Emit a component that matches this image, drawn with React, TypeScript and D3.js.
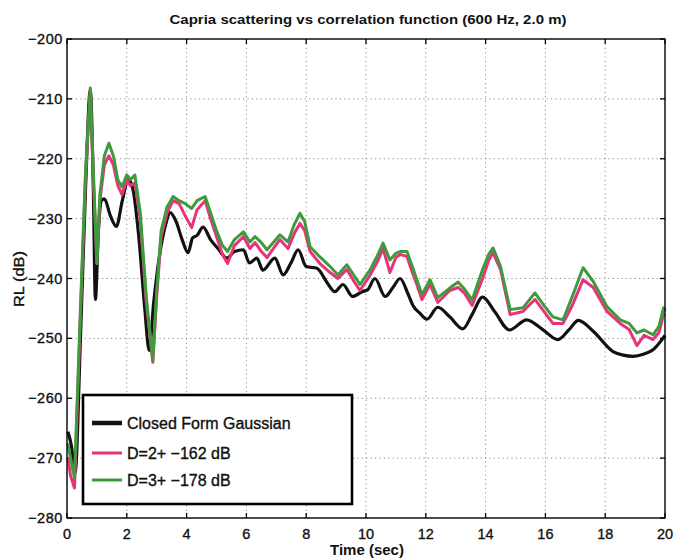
import React from "react";
import * as d3 from "d3";

const title = "Capria scattering vs correlation function (600 Hz, 2.0 m)";
const xLabel = "Time (sec)";
const yLabel = "RL (dB)";
const xTicks = [0, 2, 4, 6, 8, 10, 12, 14, 16, 18, 20];
const yTicks = [-200, -210, -220, -230, -240, -250, -260, -270, -280];

const seriesNames = ["Closed Form Gaussian", "D=2+ \u2212162 dB", "D=3+ \u2212178 dB"];
const seriesColors = ["#111111", "#e8337c", "#3f9a3c"];

const gaussT = [0.03, 0.15, 0.27, 0.45, 0.62, 0.78, 0.88, 0.95, 1.05, 1.15, 1.25, 1.45, 1.65, 1.85, 2.05, 2.2, 2.4, 2.6, 2.75, 2.9, 3.1, 3.3, 3.45, 3.65, 3.85, 4.05, 4.2, 4.35, 4.55, 4.8, 5.05, 5.35, 5.6, 5.9, 6.1, 6.35, 6.55, 6.95, 7.23, 7.5, 7.73, 8.0, 8.36, 8.7, 8.96, 9.23, 9.55, 9.87, 10.05, 10.3, 10.64, 10.9, 11.14, 11.4, 11.57, 11.8, 12.04, 12.4, 12.8, 13.24, 13.55, 13.9, 14.3, 14.8, 15.37, 15.9, 16.42, 16.8, 17.1, 17.6, 18.26, 18.6, 18.93, 19.3, 19.6, 20];
const gaussV = [-265.6, -268, -272.5, -250, -225, -208.5, -225, -243.5, -232, -227, -226.7, -229.5, -231.3, -227, -223.5, -225, -233, -245, -252, -244, -236, -231, -229, -230.5, -233.5, -235.7, -233.2, -232.8, -231.4, -233.5, -235, -236.6, -235.5, -235.2, -237.4, -236.6, -238.6, -236.6, -239.4, -237.3, -235.2, -238, -238.3, -240.7, -242.2, -241, -243, -242.2, -241.9, -240, -243, -241.5, -240, -242.5, -244.5, -245.8, -246.8, -244.8, -246.4, -248.4, -246, -243.1, -245.5, -248.6, -246.9, -248.5, -250.2, -248.5, -247, -248.8, -252.2, -252.8, -253, -252.6, -251.9, -249.5];

const dT = [0.03, 0.12, 0.25, 0.45, 0.62, 0.78, 0.88, 1.0, 1.1, 1.25, 1.4, 1.55, 1.7, 1.84, 2.0, 2.12, 2.27, 2.45, 2.65, 2.87, 3.0, 3.15, 3.35, 3.55, 3.75, 3.95, 4.17, 4.35, 4.62, 4.8, 5.0, 5.2, 5.37, 5.6, 5.9, 6.12, 6.29, 6.5, 6.69, 6.9, 7.12, 7.39, 7.6, 7.79, 7.95, 8.13, 8.46, 8.8, 9.06, 9.36, 9.6, 9.8, 10.13, 10.4, 10.57, 10.8, 11.0, 11.14, 11.37, 11.55, 11.7, 11.87, 12.14, 12.4, 12.8, 13.08, 13.3, 13.55, 13.9, 14.1, 14.25, 14.5, 14.82, 15.25, 15.65, 15.95, 16.25, 16.59, 16.9, 17.26, 17.6, 18.06, 18.5, 18.8, 19.06, 19.3, 19.6, 19.8, 19.95, 20];

const d3V = [-267.5, -270, -273.3, -245, -222, -208.2, -222, -237.5, -226, -219.5, -217.4, -219.5, -223.5, -224.7, -222.7, -223.5, -222.7, -229, -243, -253.6, -242, -232, -228, -226.3, -227, -227.5, -228.3, -227, -226.3, -229, -232, -234.5, -235.5, -233.5, -232.2, -233.9, -233, -234, -235.2, -234, -232.7, -233.9, -231, -229.1, -230.5, -234.7, -236.4, -238, -239.4, -237.7, -239.5, -241, -238.6, -236, -234.1, -236.9, -235.8, -235.5, -235.5, -238, -240.2, -242.7, -240.2, -243.2, -241.6, -240.6, -241.8, -243.6, -238.5, -236, -234.9, -238, -245.2, -244.9, -242.4, -244.5, -246.4, -246.9, -243, -238.2, -240.5, -244.7, -246.9, -247.5, -249.1, -248.6, -249.4, -248, -244.9, -245.5];

const d2V = [-270, -273, -275, -246, -223, -208.5, -223, -237.5, -227, -221, -219.5, -221, -224.5, -226, -223.5, -224.5, -224, -230, -244, -254, -243, -233, -229, -227, -227.5, -229.5, -231.5, -228.5, -227, -230, -233, -236, -237.5, -234.5, -233, -235, -234, -235.5, -236.5, -235, -233.5, -235, -232.5, -230.8, -232, -235.5, -237.5, -239, -240, -238.5, -240.5, -242, -239.5, -237, -235, -239, -236.5, -236, -236.3, -239, -241, -243.5, -241, -244, -242, -241.5, -242.5, -244.5, -240, -237, -235.7, -238.5, -246, -245.5, -243.5, -245.5, -247.5, -247.5, -244.5, -240.2, -241.5, -245.5, -247.5, -248.5, -251.2, -249.5, -250.2, -249, -246, -246];

const W = 675;
const H = 558;
const M = { left: 67, right: 665, top: 39, bottom: 518 };

export default function App() {
  const x = d3.scaleLinear().domain([0, 20]).range([M.left, M.right]);
  const y = d3.scaleLinear().domain([-280, -200]).range([M.bottom, M.top]);

  const smooth = d3
    .line<[number, number]>()
    .x((d) => x(d[0]))
    .y((d) => y(d[1]))
    .curve(d3.curveMonotoneX);
  const jag = d3
    .line<[number, number]>()
    .x((d) => x(d[0]))
    .y((d) => y(d[1]))
    .curve(d3.curveLinear);

  const gPts = gaussT.map((t, i) => [t, gaussV[i]] as [number, number]);
  const p2 = dT.map((t, i) => [t, d2V[i]] as [number, number]);
  const p3 = dT.map((t, i) => [t, d3V[i]] as [number, number]);

  const font = "'Liberation Sans', Arial, Helvetica, sans-serif";
  const tickLen = 5;

  const legX = 83, legY = 395, legW = 269, legH = 109;
  const legRows = [423, 453, 480];
  const ink = { fill: "#111", stroke: "#111", strokeWidth: 0.35 };

  return (
    <svg
      width={W}
      height={H}
      style={{ position: "absolute", left: 0, top: 0, background: "#fff" }}
      fontFamily={font}
    >
      <rect x={0} y={0} width={W} height={H} fill="#fff" />
      {/* grid */}
      {xTicks.slice(1, -1).map((t) => (
        <line key={"gx" + t} x1={x(t)} x2={x(t)} y1={M.top} y2={M.bottom}
          stroke="#8a8a8a" strokeWidth={1} strokeDasharray="1.2,3.2" />
      ))}
      {yTicks.slice(1, -1).map((v) => (
        <line key={"gy" + v} x1={M.left} x2={M.right} y1={y(v)} y2={y(v)}
          stroke="#8a8a8a" strokeWidth={1} strokeDasharray="1.2,3.2" />
      ))}
      {/* ticks */}
      {xTicks.map((t) => (
        <g key={"tx" + t}>
          <line x1={x(t)} x2={x(t)} y1={M.bottom} y2={M.bottom - tickLen} stroke="#000" strokeWidth={1.3} />
          <line x1={x(t)} x2={x(t)} y1={M.top} y2={M.top + tickLen} stroke="#000" strokeWidth={1.3} />
          <text x={x(t)} y={539} textAnchor="middle" fontSize={14.5} {...ink}>{t}</text>
        </g>
      ))}
      {yTicks.map((v) => (
        <g key={"ty" + v}>
          <line x1={M.left} x2={M.left + tickLen} y1={y(v)} y2={y(v)} stroke="#000" strokeWidth={1.3} />
          <line x1={M.right} x2={M.right - tickLen} y1={y(v)} y2={y(v)} stroke="#000" strokeWidth={1.3} />
          <text x={63} y={y(v) + 5} textAnchor="end" fontSize={14.5} letterSpacing={0.6} {...ink}>
            {String(v).replace("-", "\u2212")}
          </text>
        </g>
      ))}
      {/* series */}
      <path d={smooth(gPts) || ""} fill="none" stroke={seriesColors[0]} strokeWidth={3.2} strokeLinejoin="round" />
      <path d={jag(p2) || ""} fill="none" stroke={seriesColors[1]} strokeWidth={3} strokeLinejoin="round" />
      <path d={jag(p3) || ""} fill="none" stroke={seriesColors[2]} strokeWidth={3} strokeLinejoin="round" />
      {/* frame */}
      <rect x={M.left} y={M.top} width={M.right - M.left} height={M.bottom - M.top}
        fill="none" stroke="#000" strokeWidth={1.4} />
      {/* legend */}
      <rect x={legX} y={legY} width={legW} height={legH} fill="#fff" stroke="#000" strokeWidth={2.6} />
      {seriesNames.map((n, i) => (
        <g key={n}>
          <line x1={92} x2={122} y1={legRows[i]} y2={legRows[i]} stroke={seriesColors[i]}
            strokeWidth={i === 0 ? 4.5 : 3} />
          <text x={127} y={legRows[i] + 6} fontSize={16} {...ink}>{n}</text>
        </g>
      ))}
      {/* labels */}
      <text x={368} y={24} textAnchor="middle" fontSize={13} fontWeight="bold" textLength={397}
        lengthAdjust="spacingAndGlyphs" fill="#111">{title}</text>
      <text x={367} y={555} textAnchor="middle" fontSize={15} fontWeight="bold" fill="#111">{xLabel}</text>
      <text transform={`translate(24,279) rotate(-90)`} textAnchor="middle" fontSize={14}
        textLength={56} lengthAdjust="spacingAndGlyphs" {...ink}>{yLabel}</text>
    </svg>
  );
}
